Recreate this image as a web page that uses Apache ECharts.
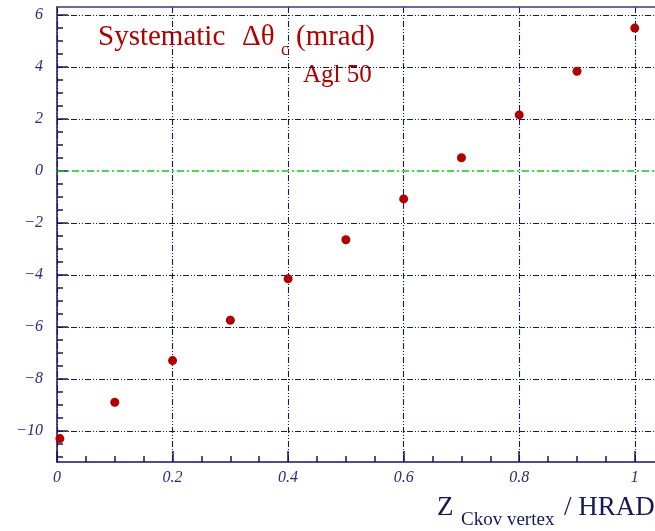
<!DOCTYPE html>
<html><head><meta charset="utf-8">
<script src="https://cdn.jsdelivr.net/npm/echarts@6/dist/echarts.min.js"></script>
<style>html,body{margin:0;padding:0;background:#fff}#c{width:655px;height:531px}</style>
</head><body><div id="c"></div>
<script>
// ---- data ----
const zValues = [0.005, 0.1, 0.2, 0.3, 0.4, 0.5, 0.6, 0.7, 0.8, 0.9, 1.0];
const deltaTheta = [-10.3, -8.9, -7.3, -5.75, -4.15, -2.65, -1.08, 0.5, 2.15, 3.83, 5.49];
const xTicks = [0, 0.2, 0.4, 0.6, 0.8, 1];
const yTicks = [-10, -8, -6, -4, -2, 0, 2, 4, 6];
const xMinorTicks = [0.05, 0.1, 0.15, 0.25, 0.3, 0.35, 0.45, 0.5, 0.55, 0.65, 0.7, 0.75, 0.85, 0.9, 0.95];
const yMinorTicks = [-11, -10.5, -9.5, -9, -8.5, -7.5, -7, -6.5, -5.5, -5, -4.5, -3.5, -3, -2.5, -1.5, -1, -0.5,
                     0.5, 1, 1.5, 2.5, 3, 3.5, 4.5, 5, 5.5];
const zeroLine = 0;

const NAVY = '#16165e';
const LABEL = '#2b2b7a';
const RED = '#b00000';
const GREEN = '#11cc11';
const serif = '"Liberation Serif", "DejaVu Serif", serif';
const gridDash = [6, 2, 1, 2, 1, 2];
const fmt = v => String(v).replace('-', '\u2212');

const splitColors = yTicks.map(v => v === zeroLine ? 'rgba(0,0,0,0)' : NAVY);

const chart = echarts.init(document.getElementById('c'), null, {renderer: 'canvas'});
chart.setOption({
  animation: false,
  backgroundColor: '#fff',
  grid: {left: 57, top: 7, right: 0, bottom: 69, containLabel: false},
  xAxis: [
    {
      type: 'value', position: 'bottom', min: 0, max: 1.035,
      axisLine: {show: true, onZero: false, lineStyle: {color: NAVY, width: 1.5}},
      axisTick: {show: true, inside: true, length: 11, customValues: xTicks, lineStyle: {color: NAVY, width: 1.5}},
      axisLabel: {show: true, customValues: xTicks, formatter: fmt, margin: 8, color: LABEL,
                  fontFamily: serif, fontStyle: 'italic', fontSize: 16},
      splitLine: {show: true, lineStyle: {color: NAVY, width: 1.1, type: gridDash}}
    },
    {
      type: 'value', position: 'bottom', min: 0, max: 1.035,
      axisLine: {show: false, onZero: false},
      axisTick: {show: true, inside: true, length: 6, customValues: xMinorTicks, lineStyle: {color: NAVY, width: 1.5}},
      axisLabel: {show: false},
      splitLine: {show: false}
    },
    {
      type: 'value', position: 'top', min: 0, max: 1.035,
      axisLine: {show: true, onZero: false, lineStyle: {color: '#3a3a80', width: 1.5}},
      axisTick: {show: false}, axisLabel: {show: false}, splitLine: {show: false}
    }
  ],
  yAxis: [
    {
      type: 'value', position: 'left', min: -11.2, max: 6.3,
      axisLine: {show: true, onZero: false, lineStyle: {color: NAVY, width: 1.5}},
      axisTick: {show: true, inside: true, length: 11, customValues: yTicks, lineStyle: {color: NAVY, width: 1.5}},
      axisLabel: {show: true, customValues: yTicks, formatter: fmt, margin: 14, color: LABEL,
                  fontFamily: serif, fontStyle: 'italic', fontSize: 16},
      splitLine: {show: true, lineStyle: {color: splitColors, width: 1.1, type: gridDash}}
    },
    {
      type: 'value', position: 'left', min: -11.2, max: 6.3,
      axisLine: {show: false, onZero: false},
      axisTick: {show: true, inside: true, length: 6, customValues: yMinorTicks, lineStyle: {color: NAVY, width: 1.5}},
      axisLabel: {show: false},
      splitLine: {show: false}
    }
  ],
  series: [{
    type: 'scatter',
    xAxisIndex: 0, yAxisIndex: 0,
    data: zValues.map((z, i) => [z, deltaTheta[i]]),
    symbol: 'circle', symbolSize: 9,
    itemStyle: {color: RED, opacity: 1},
    z: 5,
    markLine: {
      silent: true, symbol: 'none', label: {show: false},
      lineStyle: {color: GREEN, width: 1.5, type: [7, 3, 2, 3], opacity: 1},
      data: [{yAxis: zeroLine}]
    }
  }],
  graphic: [
    {type: 'text', left: 98, top: 23, style: {text: 'Systematic', font: '29px ' + serif, fill: RED}},
    {type: 'text', left: 242, top: 23, style: {text: '\u0394\u03b8', font: '29px ' + serif, fill: RED}},
    {type: 'text', left: 281, top: 41, style: {text: 'c', font: '18px ' + serif, fill: RED}},
    {type: 'text', left: 296, top: 23, style: {text: '(mrad)', font: '29px ' + serif, fill: RED}},
    {type: 'text', left: 303, top: 63, style: {text: 'Agl 50', font: '25px ' + serif, fill: RED}},
    {type: 'text', left: 437, top: 494, style: {text: 'Z', font: '27px ' + serif, fill: NAVY}},
    {type: 'text', left: 461, top: 511, style: {text: 'Ckov vertex', font: '19px ' + serif, fill: NAVY}},
    {type: 'text', left: 564, top: 494, style: {text: '/ HRAD', font: '27px ' + serif, fill: NAVY}}
  ]
});
</script>
</body></html>
